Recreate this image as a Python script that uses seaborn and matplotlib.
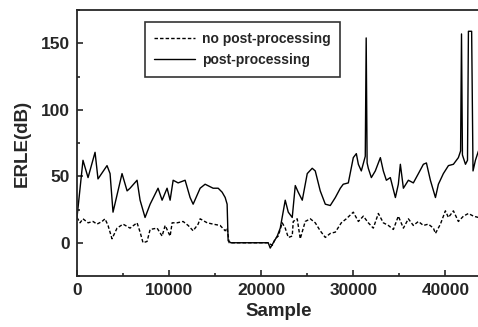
import matplotlib
matplotlib.use("Agg")
import matplotlib.pyplot as plt
import seaborn as sns
from matplotlib.ticker import MultipleLocator

# upper curve: with post-processing
post_x = [0, 650, 1200, 1960, 2280, 3260, 3590, 3910, 4890, 5440, 5760, 6520, 6850, 7390,
          7940, 8800, 9240, 9780, 10110, 10440, 10980, 11740, 12280, 12610, 13370, 13910,
          14780, 15330, 15760, 16090, 16300, 16410, 16700, 20760, 20980, 21740, 22070,
          22610, 22940, 23370, 23700, 24020, 24460, 25000, 25540, 25870, 26410, 26960,
          27500, 28050, 28590, 28910, 29460, 30000, 30330, 30550, 30870, 31300, 31400,
          31500, 31630, 31960, 32390, 32940, 33260, 33590, 34020, 34570, 34890, 35110,
          35440, 35980, 36520, 37070, 37610, 37940, 38370, 38920, 39240, 39780, 40330,
          40870, 41410, 41650, 41750, 41850, 42180, 42400, 42500, 42850, 43000, 43260, 43590]
post_y = [19, 62, 49, 68, 48, 58, 52, 23, 52, 39, 41, 47, 32, 19,
          29, 41, 32, 41, 32, 47, 45, 47, 34, 29, 41, 44,
          41, 41, 38, 34, 29, 1.5, 0, 0, -4, 5, 11,
          32, 23, 19, 43, 38, 32, 52, 56, 54, 39, 29,
          28, 34, 41, 44, 45, 64, 67, 59, 54, 65, 154,
          60, 56, 49, 54, 64, 54, 47, 49, 34, 44, 59,
          41, 47, 45, 52, 59, 60, 47, 34, 44, 52, 58,
          59, 64, 69, 157, 66, 59, 62, 159, 159, 54, 62, 69]

# lower curve: without post-processing
nopost_x = [0, 330, 650, 1200, 1740, 2170, 2720, 3040, 3370, 3800, 4350, 5000, 5760, 6520,
            6850, 7170, 7610, 7940, 8700, 9240, 9570, 10110, 10330, 10870, 11520, 12070,
            12610, 13150, 13370, 14130, 14780, 15540, 16090, 16300, 16520, 20760, 21200,
            21520, 21850, 22280, 22610, 22940, 23370, 23480, 23910, 24240, 24780, 25330,
            25870, 26410, 26960, 27500, 28050, 28700, 29240, 30000, 30550, 31090, 31630,
            32170, 32720, 33260, 33810, 34350, 34890, 35440, 35980, 36520, 37070, 37610,
            38150, 38700, 38920, 39460, 40000, 40330, 40870, 41410, 41960, 42500, 43050, 43590]
nopost_y = [19, 15, 18, 15, 16, 14, 16, 18, 13, 3, 11, 14, 11, 15,
            8, 0, 1, 10, 11, 5, 13, 5, 15, 15, 16, 13,
            9, 14, 18, 15, 14, 13, 9, 11, 0, 0, -2,
            3, 5, 15, 11, 4, 5, 16, 18, 3, 16, 18,
            15, 9, 4, 7, 8, 15, 18, 23, 16, 20, 15,
            11, 22, 15, 13, 10, 20, 11, 18, 13, 16, 13,
            14, 11, 7, 14, 24, 19, 24, 16, 20, 22, 20, 19]

x_ticks = [0, 10000, 20000, 30000, 40000]
y_ticks = [0, 50, 100, 150]

sns.set_style("ticks")
plt.rcParams['font.family'] = ['Liberation Sans', 'DejaVu Sans']

fig = plt.figure(figsize=(4.78, 3.27), dpi=100)
ax = fig.add_axes([77 / 478, 1 - 276 / 327, 1.005 - 77 / 478, 266 / 327])

sns.lineplot(x=nopost_x, y=nopost_y, ax=ax, color="black", lw=1.0,
             linestyle=(0, (2.5, 1.5)), label="no post-processing")
sns.lineplot(x=post_x, y=post_y, ax=ax, color="black", lw=1.0,
             label="post-processing")

ax.set_xlim(0, 43800)
ax.set_ylim(-25, 175)
ax.set_xticks(x_ticks)
ax.set_yticks(y_ticks)
ax.xaxis.set_minor_locator(MultipleLocator(5000))
ax.yaxis.set_minor_locator(MultipleLocator(25))
ax.tick_params(which="both", direction="in", width=1.2)
ax.tick_params(which="major", length=4, labelsize=12.5, pad=5)
ax.tick_params(which="minor", length=2.5)
for lab in ax.get_xticklabels() + ax.get_yticklabels():
    lab.set_fontweight("bold")
for s in ax.spines.values():
    s.set_linewidth(1.3)

ax.set_xlabel("Sample", fontsize=13.5, fontweight="bold", labelpad=4)
ax.set_ylabel("ERLE(dB)", fontsize=13.5, fontweight="bold", labelpad=7)

leg = ax.legend(loc="upper left", bbox_to_anchor=(0.168, 0.955), fontsize=10,
                frameon=True, fancybox=False, edgecolor="black", handlelength=2.9,
                borderpad=0.7, labelspacing=0.55, handletextpad=0.5, borderaxespad=0)
leg.get_frame().set_linewidth(1.2)
for t in leg.get_texts():
    t.set_fontweight("bold")

fig.savefig("out.png", dpi=100)
